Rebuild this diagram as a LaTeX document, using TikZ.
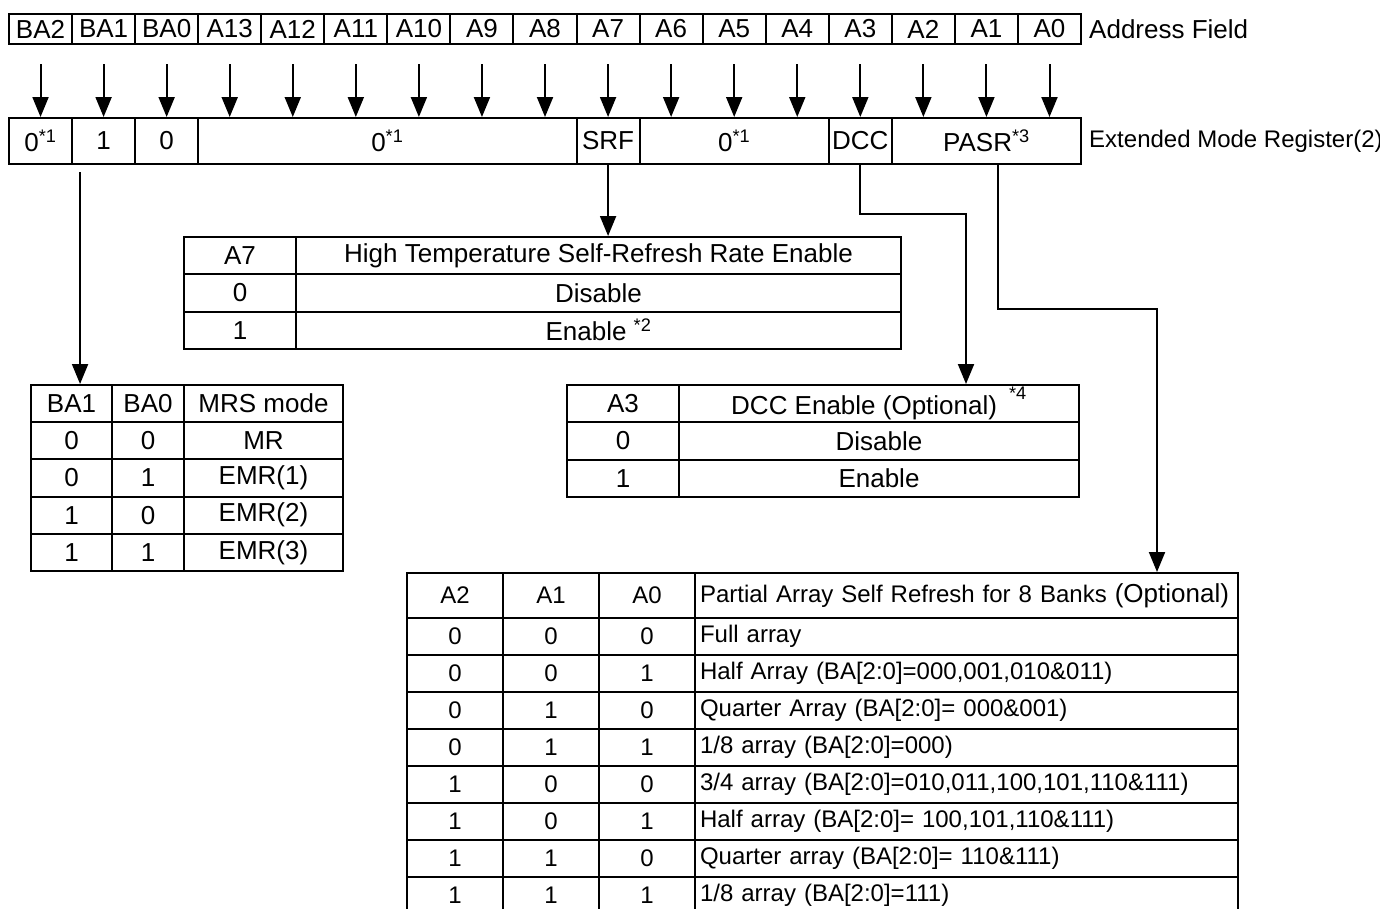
\documentclass[tikz,border=0pt]{standalone}
\usepackage{fontspec}
\setmainfont{Liberation Sans}
\usetikzlibrary{arrows.meta,calc,positioning}

\newcommand{\bigfnt}{\fontsize{26}{30}\selectfont}
\newcommand{\smallfnt}{\fontsize{24}{28}\selectfont}

\tikzstyle{reg_cell}=[draw, line width=2pt, inner sep=0pt, anchor=north west, font=\bigfnt]
\tikzstyle{tab_cell}=[reg_cell]
\tikzstyle{pasr_cell}=[reg_cell, font=\smallfnt]
\tikzstyle{desc_cell}=[pasr_cell, text width=533pt, inner xsep=5pt, align=left]
\tikzstyle{myarrow}=[-{Triangle[width=16pt,length=20pt]}, line width=2pt]

\begin{document}
\begin{tikzpicture}[x=1pt,y=-1pt]
	\useasboundingbox (0,0) rectangle (1380,908);

	% address field
	\foreach \t [count=\i from 0] in {BA2,BA1,BA0,A13,A12,A11,A10,A9,A8,A7,A6,A5,A4,A3,A2,A1,A0}
		\node[reg_cell, minimum width=63.06pt, minimum height=30pt] (F\i) at (8+63.06*\i,13) {\t};
	\node[font=\bigfnt, inner sep=0pt, right=7pt of F16] (addr) {Address Field};

	% extended mode register (2)
	\foreach \a/\b/\t [count=\j] in {0/1/{0\textsuperscript{*1}}, 1/2/1, 2/3/0, 3/9/{0\textsuperscript{*1}},
			9/10/SRF, 10/13/{0\textsuperscript{*1}}, 13/14/DCC, 14/17/{PASR\textsuperscript{*3}}}
		\node[reg_cell, minimum width={63.06pt*(\b-\a)}, minimum height=46pt] (R\j) at (8+63.06*\a,117) {\t};
	\node[font=\smallfnt, inner sep=0pt, right=7pt of R8] (emr) {Extended Mode Register(2)};

	\foreach \i in {0,...,16}
		\draw[myarrow] ($(F\i.south)+(0,19)$) -- (F\i.south |- R1.north);

	% A7 : self-refresh rate
	\foreach \k/\v [count=\r from 0] in {A7/{High Temperature Self-Refresh Rate Enable}, 0/Disable, 1/{Enable \textsuperscript{*2}}}
	{
		\node[tab_cell, minimum width=112pt, minimum height=37.3pt] (Sa\r) at (183,236+37.3*\r) {\k};
		\node[tab_cell, minimum width=605pt, minimum height=37.3pt] (Sb\r) at (295,236+37.3*\r) {\v};
	}
	\draw[myarrow] (R5.south) -- (R5.south |- Sb0.north);

	% BA1 / BA0 : mode register select
	\foreach \p/\q/\m [count=\r from 0] in {BA1/BA0/{MRS mode}, 0/0/MR, 0/1/EMR(1), 1/0/EMR(2), 1/1/EMR(3)}
	{
		\node[tab_cell, minimum width=81pt, minimum height=37.2pt] (Ba\r) at (30,384+37.2*\r) {\p};
		\node[tab_cell, minimum width=72pt, minimum height=37.2pt] (Bb\r) at (111,384+37.2*\r) {\q};
		\node[tab_cell, minimum width=159pt, minimum height=37.2pt] (Bc\r) at (183,384+37.2*\r) {\m};
	}
	\coordinate (ba_src) at ($(R2.south west)+(9,7)$);
	\draw[myarrow] (ba_src) -- (ba_src |- Ba0.north);

	% A3 : DCC
	\foreach \k/\v [count=\r from 0] in {A3/{DCC Enable (Optional)\hspace{12pt}\raisebox{6pt}{\textsuperscript{*4}}}, 0/Disable, 1/Enable}
	{
		\node[tab_cell, minimum width=112pt, minimum height=37.3pt] (Da\r) at (566,384+37.3*\r) {\k};
		\node[tab_cell, minimum width=400pt, minimum height=37.3pt] (Db\r) at (678,384+37.3*\r) {\v};
	}
	\coordinate (dcc_in) at ($(Db0.north west)+(288,0)$);
	\draw[myarrow] (R7.south) -- ++(0,49) -| (dcc_in);

	% A2..A0 : PASR
	\node[pasr_cell, minimum width=96pt, minimum height=45pt] (Pa0) at (406,572) {A2};
	\node[pasr_cell, minimum width=96pt, minimum height=45pt] (Pb0) at (502,572) {A1};
	\node[pasr_cell, minimum width=96pt, minimum height=45pt] (Pc0) at (598,572) {A0};
	\node[desc_cell, minimum height=45pt] (Pd0) at (694,572) {Partial Array Self Refresh for 8 Banks {\bigfnt (Optional)}};
	\foreach \x/\y/\z/\d [count=\r] in {0/0/0/{Full array},
			0/0/1/{Half Array (BA[2:0]=000,001,010\&011)},
			0/1/0/{Quarter Array (BA[2:0]= 000\&001)},
			0/1/1/{1/8 array (BA[2:0]=000)},
			1/0/0/{3/4 array (BA[2:0]=010,011,100,101,110\&111)},
			1/0/1/{Half array (BA[2:0]= 100,101,110\&111)},
			1/1/0/{Quarter array (BA[2:0]= 110\&111)},
			1/1/1/{1/8 array (BA[2:0]=111)}}
	{
		\node[pasr_cell, minimum width=96pt, minimum height=37pt] (Pa\r) at (406,580+37*\r) {\x};
		\node[pasr_cell, minimum width=96pt, minimum height=37pt] (Pb\r) at (502,580+37*\r) {\y};
		\node[pasr_cell, minimum width=96pt, minimum height=37pt] (Pc\r) at (598,580+37*\r) {\z};
		\node[desc_cell, minimum height=37pt] (Pd\r) at (694,580+37*\r) {\d};
	}
	\coordinate (pasr_src) at ($(R8.south)+(12,0)$);
	\coordinate (pasr_in) at ($(Pd0.north west)+(463,0)$);
	\draw[myarrow] (pasr_src) -- ++(0,144) -| (pasr_in);
\end{tikzpicture}
\end{document}
